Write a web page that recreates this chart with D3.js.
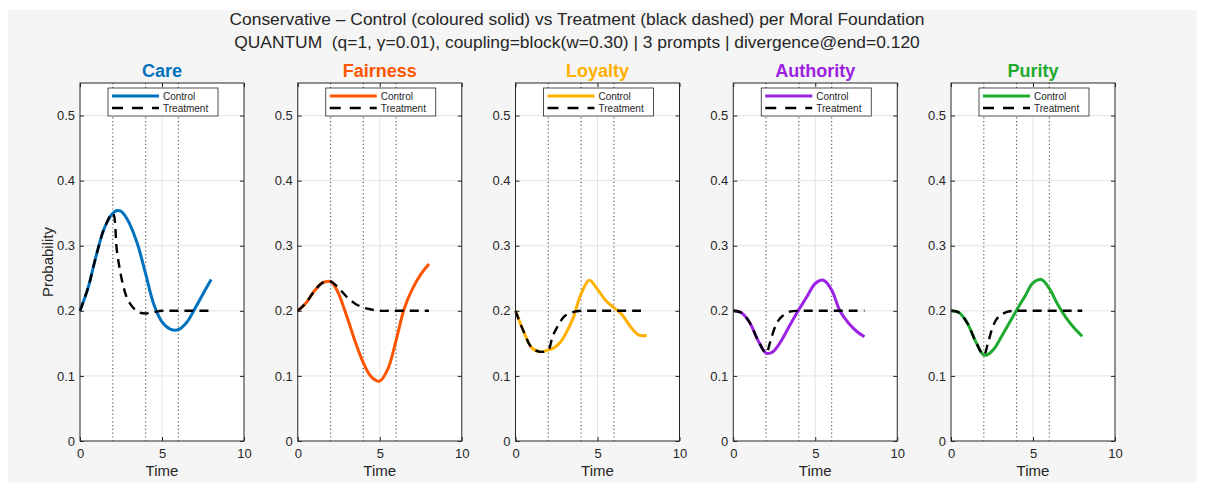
<!DOCTYPE html>
<meta charset="utf-8">
<head>
  <title>Control vs Treatment per Moral Foundation</title>
</head>
<style>
    body {
        margin: 0;
        background-color: #ffffff;
    }

    svg text {
        font-family: "Liberation Sans", Arial, Helvetica, sans-serif;
        fill: #262626;
    }

    .grid line {
        stroke: #e3e3e3;
        stroke-width: 1px;
    }

    .prompt-line {
        stroke: #5e5e5e;
        stroke-width: 1.2px;
        stroke-dasharray: 1.2 2.6;
    }

    .tick line {
        stroke: #262626;
    }

    .tick text {
        font-size: 13px;
    }
</style>
<body>
    <svg id="chart" width="1206" height="493"></svg>

    <script src="https://cdn.jsdelivr.net/npm/d3@7"></script>

    <script>
        // data
        var timeSteps = [0, 0.5, 1, 1.5, 2, 2.25, 2.5, 2.75, 3, 3.5, 4, 4.5, 5, 5.5, 6, 6.5, 7, 7.5, 8];

        var foundations = ["Care", "Fairness", "Loyalty", "Authority", "Purity"];

        var careControl      = [0.200, 0.236, 0.286, 0.328, 0.350, 0.354, 0.353, 0.346, 0.335, 0.303, 0.257, 0.210, 0.183, 0.172, 0.171, 0.182, 0.203, 0.226, 0.248];
        var careTreatment    = [0.200, 0.236, 0.286, 0.328, 0.350, 0.292, 0.254, 0.228, 0.213, 0.199, 0.196, 0.198, 0.200, 0.200, 0.200, 0.200, 0.200, 0.200, 0.200];

        var fairnessControl  = [0.200, 0.212, 0.230, 0.243, 0.245, 0.238, 0.226, 0.209, 0.191, 0.153, 0.120, 0.098, 0.092, 0.111, 0.155, 0.204, 0.234, 0.256, 0.272];
        var fairnessTreatment= [0.200, 0.212, 0.230, 0.243, 0.245, 0.241, 0.235, 0.228, 0.221, 0.211, 0.205, 0.202, 0.200, 0.200, 0.200, 0.200, 0.200, 0.200, 0.200];

        var loyaltyControl   = [0.200, 0.168, 0.143, 0.137, 0.140, 0.142, 0.146, 0.152, 0.162, 0.188, 0.226, 0.247, 0.233, 0.216, 0.205, 0.194, 0.176, 0.163, 0.162];
        var loyaltyTreatment = [0.200, 0.168, 0.143, 0.137, 0.140, 0.160, 0.173, 0.184, 0.192, 0.198, 0.200, 0.200, 0.200, 0.200, 0.200, 0.200, 0.200, 0.200, 0.200];

        var authorityControl = [0.200, 0.197, 0.182, 0.155, 0.135, 0.135, 0.139, 0.147, 0.157, 0.180, 0.202, 0.222, 0.242, 0.247, 0.232, 0.200, 0.182, 0.169, 0.160];
        var authorityTreatment=[0.200, 0.197, 0.182, 0.155, 0.135, 0.152, 0.172, 0.185, 0.192, 0.199, 0.200, 0.200, 0.200, 0.200, 0.200, 0.200, 0.200, 0.200, 0.200];

        var purityControl    = [0.200, 0.197, 0.181, 0.153, 0.132, 0.133, 0.138, 0.146, 0.157, 0.179, 0.201, 0.222, 0.243, 0.248, 0.234, 0.210, 0.190, 0.174, 0.161];
        var purityTreatment  = [0.200, 0.197, 0.181, 0.153, 0.132, 0.150, 0.172, 0.186, 0.193, 0.199, 0.200, 0.200, 0.200, 0.200, 0.200, 0.200, 0.200, 0.200, 0.200];

        var controlSeries = [careControl, fairnessControl, loyaltyControl, authorityControl, purityControl];
        var treatmentSeries = [careTreatment, fairnessTreatment, loyaltyTreatment, authorityTreatment, purityTreatment];

        var promptTimes = [2, 4, 6];
        var xTicks = [0, 5, 10];
        var yTicks = [0, 0.1, 0.2, 0.3, 0.4, 0.5];

        var titleLines = [
            "Conservative \u2013 Control (coloured solid) vs Treatment (black dashed) per Moral Foundation",
            "QUANTUM  (q=1, \u03b3=0.01), coupling=block(w=0.30) | 3 prompts | divergence@end=0.120"
        ];

        // styles
        var colors = ["#0072BD", "#FF5500", "#FFB000", "#9B22E2", "#1EAA2E"];

        var panelLeft = 80,
            panelStep = 217.75,
            panelW = 164,
            panelTop = 83,
            panelBottom = 441;

        var svg = d3.select("#chart");

        svg.append("rect")
            .attr("x", 8).attr("y", 10)
            .attr("width", 1189).attr("height", 473)
            .attr("fill", "#f5f5f5");

        svg.selectAll("text.title")
            .data(titleLines)
            .enter()
            .append("text")
            .attr("class", "title")
            .attr("x", 577)
            .attr("y", function(d, i) { return 25 + i * 23; })
            .attr("text-anchor", "middle")
            .style("font-size", "17.4px")
            .style("white-space", "pre")
            .text(function(d) { return d; });

        var h = panelBottom - panelTop;
        var x = d3.scaleLinear().domain([0, 10]).range([0, panelW]);
        var y = d3.scaleLinear().domain([0, 0.55]).range([h, 0]);

        var line = d3.line()
            .x(function(d) { return x(d[0]); })
            .y(function(d) { return y(d[1]); })
            .curve(d3.curveCatmullRom.alpha(0.5));

        foundations.forEach(function(name, i) {
            let g = svg.append("g")
                .attr("transform", "translate(" + (panelLeft + i * panelStep) + "," + panelTop + ")");

            g.append("rect")
                .attr("width", panelW)
                .attr("height", h)
                .attr("fill", "white");

            // grid
            let grid = g.append("g").attr("class", "grid");
            grid.selectAll("line.h")
                .data(yTicks.slice(1))
                .enter().append("line")
                .attr("x1", 0).attr("x2", panelW)
                .attr("y1", function(d) { return y(d); })
                .attr("y2", function(d) { return y(d); });
            grid.selectAll("line.v")
                .data(xTicks.slice(1, -1))
                .enter().append("line")
                .attr("y1", 0).attr("y2", h)
                .attr("x1", function(d) { return x(d); })
                .attr("x2", function(d) { return x(d); });

            // prompt markers
            g.selectAll("line.prompt-line")
                .data(promptTimes)
                .enter().append("line")
                .attr("class", "prompt-line")
                .attr("y1", 0).attr("y2", h)
                .attr("x1", function(d) { return x(d); })
                .attr("x2", function(d) { return x(d); });

            let ctrl = timeSteps.map(function(t, k) { return [t, controlSeries[i][k]]; });
            let treat = timeSteps.map(function(t, k) { return [t, treatmentSeries[i][k]]; });

            g.append("path")
                .datum(ctrl)
                .attr("d", line)
                .attr("fill", "none")
                .attr("stroke", colors[i])
                .attr("stroke-width", 3);

            g.append("path")
                .datum(treat)
                .attr("d", line)
                .attr("fill", "none")
                .attr("stroke", "black")
                .attr("stroke-width", 2.4)
                .attr("stroke-dasharray", "9,6");

            // axes (ticks inward, on all four sides)
            let left = g.append("g")
                .call(d3.axisLeft(y).tickValues(yTicks).tickSize(-4).tickPadding(5).tickFormat(d3.format("")));
            let bot = g.append("g")
                .attr("transform", "translate(0," + h + ")")
                .call(d3.axisBottom(x).tickValues(xTicks).tickSize(-4).tickPadding(8));
            let right = g.append("g")
                .attr("transform", "translate(" + panelW + ",0)")
                .call(d3.axisRight(y).tickValues(yTicks).tickSize(-4).tickFormat(""));
            let topAx = g.append("g")
                .call(d3.axisTop(x).tickValues(xTicks).tickSize(-4).tickFormat(""));
            [left, bot, right, topAx].forEach(function(a) {
                a.select(".domain").remove();
                a.attr("font-family", null).attr("font-size", null);
            });

            g.append("rect")
                .attr("width", panelW)
                .attr("height", h)
                .attr("fill", "none")
                .attr("stroke", "#262626")
                .attr("stroke-width", 1);

            // legend
            let lg = g.append("g").attr("transform", "translate(28,5)");
            lg.append("rect")
                .attr("width", 110).attr("height", 28)
                .attr("fill", "white")
                .attr("stroke", "#262626")
                .attr("stroke-width", 0.8);
            lg.append("line")
                .attr("x1", 4).attr("x2", 51).attr("y1", 8).attr("y2", 8)
                .attr("stroke", colors[i]).attr("stroke-width", 3);
            lg.append("line")
                .attr("x1", 4).attr("x2", 51).attr("y1", 20).attr("y2", 20)
                .attr("stroke", "black").attr("stroke-width", 2.4)
                .attr("stroke-dasharray", "11,9");
            lg.append("text").attr("x", 55).attr("y", 11.5).style("font-size", "10px").text("Control");
            lg.append("text").attr("x", 55).attr("y", 23.5).style("font-size", "10px").text("Treatment");

            // titles
            g.append("text")
                .attr("x", panelW / 2)
                .attr("y", -6.5)
                .attr("text-anchor", "middle")
                .style("font-size", "18px")
                .style("font-weight", "bold")
                .style("fill", colors[i])
                .text(name);

            g.append("text")
                .attr("x", x(5))
                .attr("y", h + 35)
                .attr("text-anchor", "middle")
                .style("font-size", "15px")
                .text("Time");

            if (i === 0) {
                g.append("text")
                    .attr("transform", "translate(-27," + (h / 2) + ") rotate(-90)")
                    .attr("text-anchor", "middle")
                    .style("font-size", "15px")
                    .text("Probability");
            }
        });
    </script>
</body>
